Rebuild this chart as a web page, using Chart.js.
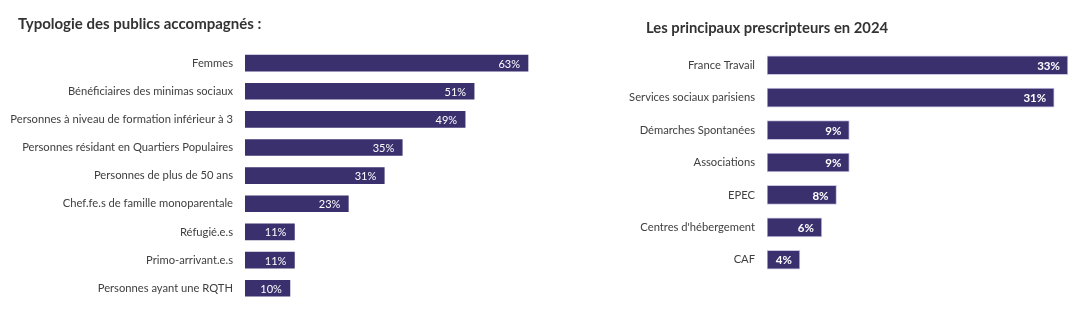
<!DOCTYPE html>
<html lang="fr">
<head>
<meta charset="utf-8">
<script src="https://cdn.jsdelivr.net/npm/chart.js@4"></script>
<style>
  html, body { margin: 0; padding: 0; background: #fff; }
  #page { position: relative; width: 1081px; height: 321px; overflow: hidden; }
  .box { position: absolute; top: 0; height: 321px; }
  .title { position: absolute; font-family: Lato, sans-serif; font-weight: bold; color: #333; white-space: nowrap; }
</style>
</head>
<body>
<div id="page">
  <div class="box" style="left:0;width:540px"><canvas id="publics"></canvas></div>
  <div class="box" style="left:540px;width:541px"><canvas id="prescripteurs"></canvas></div>
  <div class="title" style="left:18px;top:14px;font-size:15px">Typologie des publics accompagnés :</div>
  <div class="title" style="left:646px;top:18px;font-size:14.8px">Les principaux prescripteurs en 2024</div>
</div>
<script>
// Typologie des publics
const publicsLabels = [
  'Femmes',
  'Bénéficiaires des minimas sociaux',
  'Personnes à niveau de formation inférieur à 3',
  'Personnes résidant en Quartiers Populaires',
  'Personnes de plus de 50 ans',
  'Chef.fe.s de famille monoparentale',
  'Réfugié.e.s',
  'Primo-arrivant.e.s',
  'Personnes ayant une RQTH'
];
const publicsValues = [63, 51, 49, 35, 31, 23, 11, 11, 10];

// Prescripteurs 2024
const prescLabels = [
  'France Travail',
  'Services sociaux parisiens',
  'Démarches Spontanées',
  'Associations',
  'EPEC',
  "Centres d'hébergement",
  'CAF'
];
const prescValues = [32.9, 31.4, 9.0, 9.0, 7.6, 6.0, 3.6];

const BAR_COLOR = '#3a306e';
const TEXT_COLOR = '#404040';

// % labels inside the end of each bar
const valueLabels = {
  id: 'valueLabels',
  afterDatasetsDraw(chart, args, opts) {
    const ctx = chart.ctx;
    const meta = chart.getDatasetMeta(0);
    const data = chart.data.datasets[0].data;
    ctx.save();
    ctx.font = opts.font;
    ctx.fillStyle = '#fff';
    ctx.textAlign = 'right';
    ctx.textBaseline = 'middle';
    meta.data.forEach((bar, i) => {
      ctx.fillText(Math.round(data[i]) + '%', bar.x - opts.offset, bar.y + 1);
    });
    ctx.restore();
  }
};

function makeChart(id, labels, values, cfg) {
  return new Chart(document.getElementById(id), {
    type: 'bar',
    data: {
      labels,
      datasets: [{
        data: values,
        backgroundColor: BAR_COLOR,
        borderColor: cfg.border,
        borderWidth: cfg.borderWidth,
        borderSkipped: false,
        barThickness: cfg.thickness
      }]
    },
    options: {
      indexAxis: 'y',
      responsive: true,
      maintainAspectRatio: false,
      animation: false,
      layout: { padding: { top: cfg.top, bottom: cfg.bottom, left: 0, right: cfg.right } },
      plugins: {
        legend: { display: false },
        tooltip: { enabled: false },
        valueLabels: { font: cfg.valueFont, offset: 8 }
      },
      scales: {
        x: { display: false, min: 0, max: cfg.max },
        y: {
          afterFit(scale) { scale.width = cfg.axisWidth; },
          grid: { display: false, drawTicks: false },
          border: { display: false },
          ticks: {
            color: TEXT_COLOR,
            padding: 12,
            font: { family: 'Lato, sans-serif', size: 11.2 }
          }
        }
      }
    },
    plugins: [valueLabels]
  });
}

makeChart('publics', publicsLabels, publicsValues, {
  top: 49, bottom: 15, right: 3, max: 65, axisWidth: 245,
  thickness: 16, border: BAR_COLOR, borderWidth: 0,
  valueFont: '11px Lato, sans-serif'
});

makeChart('prescripteurs', prescLabels, prescValues, {
  top: 49, bottom: 45, right: 3, max: 34, axisWidth: 227,
  thickness: 19, border: '#c9c5e2', borderWidth: 1,
  valueFont: 'bold 11.5px Lato, sans-serif'
});
</script>
</body>
</html>
